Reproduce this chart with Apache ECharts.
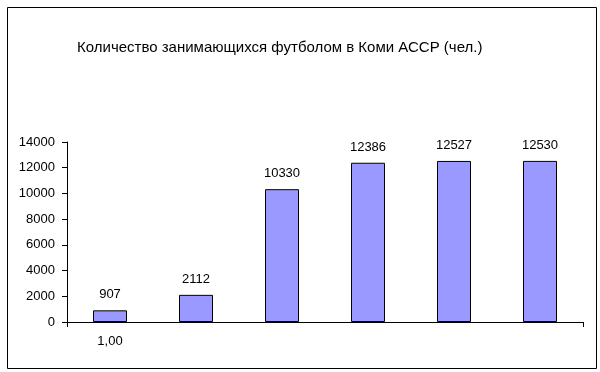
<!DOCTYPE html>
<html>
<head>
<meta charset="utf-8">
<script src="https://cdn.jsdelivr.net/npm/echarts@6/dist/echarts.min.js"></script>
<style>html,body{margin:0;padding:0;background:#fff}#c{width:600px;height:372px}</style>
</head>
<body>
<div id="c"></div>
<script>
var titleText = 'Количество занимающихся футболом в Коми АССР (чел.)';
var categories = ['1,00', '', '', '', '', ''];
var values = [907, 2112, 10330, 12386, 12527, 12530];
var yTicks = {min: 0, max: 14000, interval: 2000};

var chart = echarts.init(document.getElementById('c'), null, {renderer: 'canvas'});
chart.setOption({
  animation: false,
  backgroundColor: '#fff',
  textStyle: {fontFamily: 'Liberation Sans, Arial, sans-serif'},
  graphic: [{
    type: 'rect', left: 5, top: 5, shape: {width: 589, height: 361},
    style: {fill: 'none', stroke: '#000', lineWidth: 1}, silent: true
  }],
  title: {
    text: titleText, left: 77, top: 40, padding: 0,
    textStyle: {fontSize: 15, fontWeight: 'normal', color: '#000', fontFamily: 'Liberation Sans, Arial, sans-serif'}
  },
  grid: {left: 67, right: 17, top: 142, bottom: 50, containLabel: false},
  xAxis: {
    type: 'category', data: categories, boundaryGap: true,
    axisLine: {lineStyle: {color: '#000', width: 1}},
    axisTick: {show: true, length: 5, interval: function (i) { return i === 0; }, lineStyle: {color: '#000'}},
    axisLabel: {color: '#000', fontSize: 13, margin: 13, interval: 0},
    splitLine: {show: false}
  },
  yAxis: {
    type: 'value', min: yTicks.min, max: yTicks.max, interval: yTicks.interval,
    axisLine: {show: true, lineStyle: {color: '#000', width: 1}},
    axisTick: {show: true, length: 5, lineStyle: {color: '#000'}},
    axisLabel: {color: '#000', fontSize: 13, margin: 12, formatter: function (v) { return String(v); }},
    splitLine: {show: false}
  },
  series: [{
    type: 'bar', data: values, barWidth: 34,
    itemStyle: {color: '#9999FF', borderColor: '#000', borderWidth: 1},
    label: {show: true, position: 'top', distance: 9, color: '#000', fontSize: 13}
  }]
});
</script>
</body>
</html>
